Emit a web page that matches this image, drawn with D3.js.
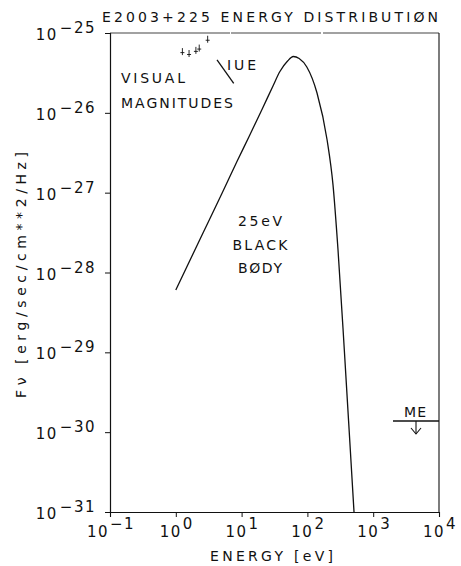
<!DOCTYPE html>
<html>
<head>
<meta charset="utf-8">
<script src="https://cdn.jsdelivr.net/npm/d3@7"></script>
<style>
  html, body { margin: 0; padding: 0; background: #fff; }
  svg { display: block; }
  text { font-family: "DejaVu Sans", sans-serif; fill: #111; }
</style>
</head>
<body>
<div id="chart"></div>
<script>
// ---- data ----
const title = "E2003+225 ENERGY DISTRIBUTIØN";
const xTitle = "ENERGY [eV]";
const yTitle = "Fν [erg/sec/cm**2/Hz]";

// x ticks: 10^exp (eV)
const xTickExps = [-1, 0, 1, 2, 3, 4];
// y ticks: 10^exp
const yTickExps = [-25, -26, -27, -28, -29, -30, -31];

// 25 eV black body curve (energy in eV, flux)
const bbEnergy = [1.0, 2.6, 5, 8.5, 13, 21, 30, 38, 50, 61, 75, 98, 140, 199, 245, 292, 364, 449, 511];
const bbFlux   = [6.04e-29, 3.15e-28, 9.67e-28, 2.46e-27, 5.05e-27, 1.16e-26, 2.17e-26, 3.27e-26,
                  4.46e-26, 5.08e-26, 4.79e-26, 3.75e-26, 1.77e-26, 4.6e-27, 1.25e-27, 1.91e-28,
                  1.07e-29, 5.97e-31, 1.0e-31];

// visual magnitude points
const visEnergy = [1.26, 1.59, 2.02, 2.27, 3.05];
const visFlux   = [5.6e-26, 5.3e-26, 5.8e-26, 6.2e-26, 8.0e-26];

// IUE spectrum slope segment
const iueEnergy = [4.23, 7.59];
const iueFlux   = [4.6e-26, 2.34e-26];

// ME upper limit
const meEnergy = [2000, 10000];
const meLimit  = 1.38e-30;

// labels
const bbLabel = ["25eV", "BLACK", "BØDY"];
const visLabel = ["VISUAL", "MAGNITUDES"];

// ---- drawing ----
const W = 461, H = 566;
const svg = d3.select("#chart").append("svg").attr("width", W).attr("height", H);

const x = d3.scaleLog().domain([1e-1, 1e4]).range([110, 439]);
const y = d3.scaleLog().domain([1e-31, 1e-25]).range([512, 33]);

const ink = "#111";

// frame: top and right borders
svg.append("line").attr("x1", x(1e-1)).attr("x2", x(1e4))
  .attr("y1", y(1e-25)).attr("y2", y(1e-25))
  .attr("stroke", "#444").attr("stroke-width", 1.1).attr("stroke-dasharray", "120,1,90,2,119");
svg.append("line").attr("x1", x(1e4)).attr("x2", x(1e4))
  .attr("y1", y(1e-25)).attr("y2", y(1e-31))
  .attr("stroke", ink).attr("stroke-width", 1.1);

// axes
const yAxis = d3.axisLeft(y).tickValues(yTickExps.map(e => Math.pow(10, e)))
  .tickSize(5).tickFormat("");
const gy = svg.append("g").attr("transform", `translate(${x(1e-1)},0)`).call(yAxis);
gy.select(".domain").attr("stroke", ink).attr("stroke-width", 1.2);
gy.selectAll(".tick line").attr("stroke", ink);

const xAxis = d3.axisBottom(x).tickValues(xTickExps.map(e => Math.pow(10, e)))
  .tickSize(5).tickFormat("");
const gx = svg.append("g").attr("transform", `translate(0,${y(1e-31)})`).call(xAxis);
gx.select(".domain").attr("stroke", ink).attr("stroke-width", 1.1);
gx.selectAll(".tick line").attr("stroke", ink);

const minus = s => String(s).replace("-", "\u2212");

// y tick labels
const yl = svg.append("g").selectAll("text").data(yTickExps).join("text")
  .attr("x", 96).attr("y", d => y(Math.pow(10, d)) + 7)
  .attr("text-anchor", "end").attr("font-size", 15).attr("letter-spacing", 1.5);
yl.append("tspan").text("10");
yl.append("tspan").attr("dy", -7).attr("dx", 2).text(d => minus(d));

// x tick labels
const xl = svg.append("g").selectAll("text").data(xTickExps).join("text")
  .attr("x", d => x(Math.pow(10, d)) + 1).attr("y", 537)
  .attr("text-anchor", "middle").attr("font-size", 15).attr("letter-spacing", 1.5);
xl.append("tspan").text("10");
xl.append("tspan").attr("dy", -8).attr("dx", 1).text(d => minus(d));

// titles
svg.append("text").attr("x", 102).attr("y", 22).attr("font-size", 14)
  .attr("textLength", 336).attr("lengthAdjust", "spacing").text(title);
svg.append("text").attr("x", 210).attr("y", 561).attr("font-size", 14)
  .attr("textLength", 123).attr("lengthAdjust", "spacing").text(xTitle);
svg.append("text").attr("transform", "translate(26,398) rotate(-90)")
  .attr("font-size", 14).attr("textLength", 246).attr("lengthAdjust", "spacing").text(yTitle);

// black body curve
const bb = bbEnergy.map((e, i) => [e, bbFlux[i]]);
svg.append("path").datum(bb)
  .attr("fill", "none").attr("stroke", ink).attr("stroke-width", 1.3)
  .attr("d", d3.line().x(d => x(d[0])).y(d => y(d[1])).curve(d3.curveMonotoneX));

// visual magnitudes crosses
const vis = svg.append("g").selectAll("g").data(visEnergy.map((e, i) => [e, visFlux[i]])).join("g")
  .attr("transform", d => `translate(${x(d[0])},${y(d[1])})`);
vis.append("line").attr("x1", 0).attr("x2", 0).attr("y1", -5).attr("y2", 2)
  .attr("stroke", ink).attr("stroke-width", 0.9);
vis.append("line").attr("x1", -2).attr("x2", 2).attr("y1", -0.5).attr("y2", -0.5)
  .attr("stroke", ink).attr("stroke-width", 0.9);

// IUE segment
svg.append("line")
  .attr("x1", x(iueEnergy[0])).attr("y1", y(iueFlux[0]))
  .attr("x2", x(iueEnergy[1])).attr("y2", y(iueFlux[1]))
  .attr("stroke", ink).attr("stroke-width", 1.3);
svg.append("text").attr("x", 227).attr("y", 70).attr("font-size", 14)
  .attr("textLength", 29).attr("lengthAdjust", "spacing").text("IUE");

// visual magnitudes label
svg.append("text").attr("x", 121).attr("y", 83).attr("font-size", 14)
  .attr("textLength", 64).attr("lengthAdjust", "spacing").text(visLabel[0]);
svg.append("text").attr("x", 121).attr("y", 108).attr("font-size", 14)
  .attr("textLength", 112).attr("lengthAdjust", "spacing").text(visLabel[1]);

// black body label
const bbLabelY = [226, 250, 273];
const bbLabelW = [44, 55, 44];
bbLabel.forEach((t, i) => {
  svg.append("text").attr("x", 260 - bbLabelW[i] / 2).attr("y", bbLabelY[i]).attr("font-size", 14)
    .attr("textLength", bbLabelW[i]).attr("lengthAdjust", "spacing").text(t);
});

// ME upper limit
const meMid = Math.sqrt(meEnergy[0] * meEnergy[1]);
svg.append("line").attr("x1", x(meEnergy[0])).attr("x2", x(meEnergy[1]))
  .attr("y1", y(meLimit)).attr("y2", y(meLimit)).attr("stroke", ink).attr("stroke-width", 1.3);
svg.append("line").attr("x1", x(meMid)).attr("x2", x(meMid))
  .attr("y1", y(meLimit)).attr("y2", y(meLimit) + 13).attr("stroke", ink).attr("stroke-width", 1.1);
svg.append("path")
  .attr("d", `M${x(meMid) - 5},${y(meLimit) + 7} L${x(meMid)},${y(meLimit) + 13} L${x(meMid) + 5},${y(meLimit) + 7}`)
  .attr("fill", "none").attr("stroke", ink).attr("stroke-width", 1.1);
svg.append("text").attr("x", 404).attr("y", 417).attr("font-size", 14)
  .attr("textLength", 22).attr("lengthAdjust", "spacing").text("ME");
</script>
</body>
</html>
